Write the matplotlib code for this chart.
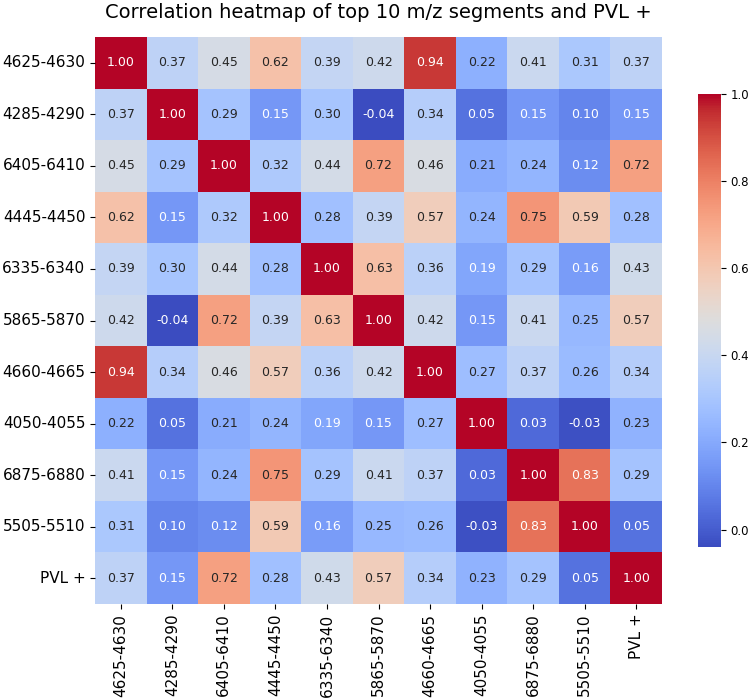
import matplotlib
matplotlib.use("Agg")
import matplotlib.pyplot as plt
import numpy as np
import seaborn as sns

labels = ["4625-4630", "4285-4290", "6405-6410", "4445-4450", "6335-6340",
          "5865-5870", "4660-4665", "4050-4055", "6875-6880", "5505-5510", "PVL +"]

corr = np.array([
    [1.00, 0.37, 0.45, 0.62, 0.39, 0.42, 0.94, 0.22, 0.41, 0.31, 0.37],
    [0.37, 1.00, 0.29, 0.15, 0.30, -0.04, 0.34, 0.05, 0.15, 0.10, 0.15],
    [0.45, 0.29, 1.00, 0.32, 0.44, 0.72, 0.46, 0.21, 0.24, 0.12, 0.72],
    [0.62, 0.15, 0.32, 1.00, 0.28, 0.39, 0.57, 0.24, 0.75, 0.59, 0.28],
    [0.39, 0.30, 0.44, 0.28, 1.00, 0.63, 0.36, 0.19, 0.29, 0.16, 0.43],
    [0.42, -0.04, 0.72, 0.39, 0.63, 1.00, 0.42, 0.15, 0.41, 0.25, 0.57],
    [0.94, 0.34, 0.46, 0.57, 0.36, 0.42, 1.00, 0.27, 0.37, 0.26, 0.34],
    [0.22, 0.05, 0.21, 0.24, 0.19, 0.15, 0.27, 1.00, 0.03, -0.03, 0.23],
    [0.41, 0.15, 0.24, 0.75, 0.29, 0.41, 0.37, 0.03, 1.00, 0.83, 0.29],
    [0.31, 0.10, 0.12, 0.59, 0.16, 0.25, 0.26, -0.03, 0.83, 1.00, 0.05],
    [0.37, 0.15, 0.72, 0.28, 0.43, 0.57, 0.34, 0.23, 0.29, 0.05, 1.00],
])

W, H = 750, 698
fig = plt.figure(figsize=(W / 100, H / 100), dpi=100)
ax = fig.add_axes([95 / W, (H - 604) / H, 567 / W, 567 / H])
cax = fig.add_axes([698 / W, (H - 547) / H, 23 / W, 453 / H])

sns.heatmap(corr, ax=ax, cbar_ax=cax, cmap="coolwarm", annot=True, fmt=".2f",
            annot_kws={"fontsize": 9}, xticklabels=labels, yticklabels=labels)

ax.set_title("Correlation heatmap of top 10 m/z segments and PVL +", fontsize=14, pad=14)
ax.tick_params(axis="both", labelsize=11)
plt.setp(ax.get_xticklabels(), rotation=90)
plt.setp(ax.get_yticklabels(), rotation=0)
cax.tick_params(labelsize=8.5)
cax.set_yticks([0.0, 0.2, 0.4, 0.6, 0.8, 1.0])

fig.savefig("out.png", dpi=100)
